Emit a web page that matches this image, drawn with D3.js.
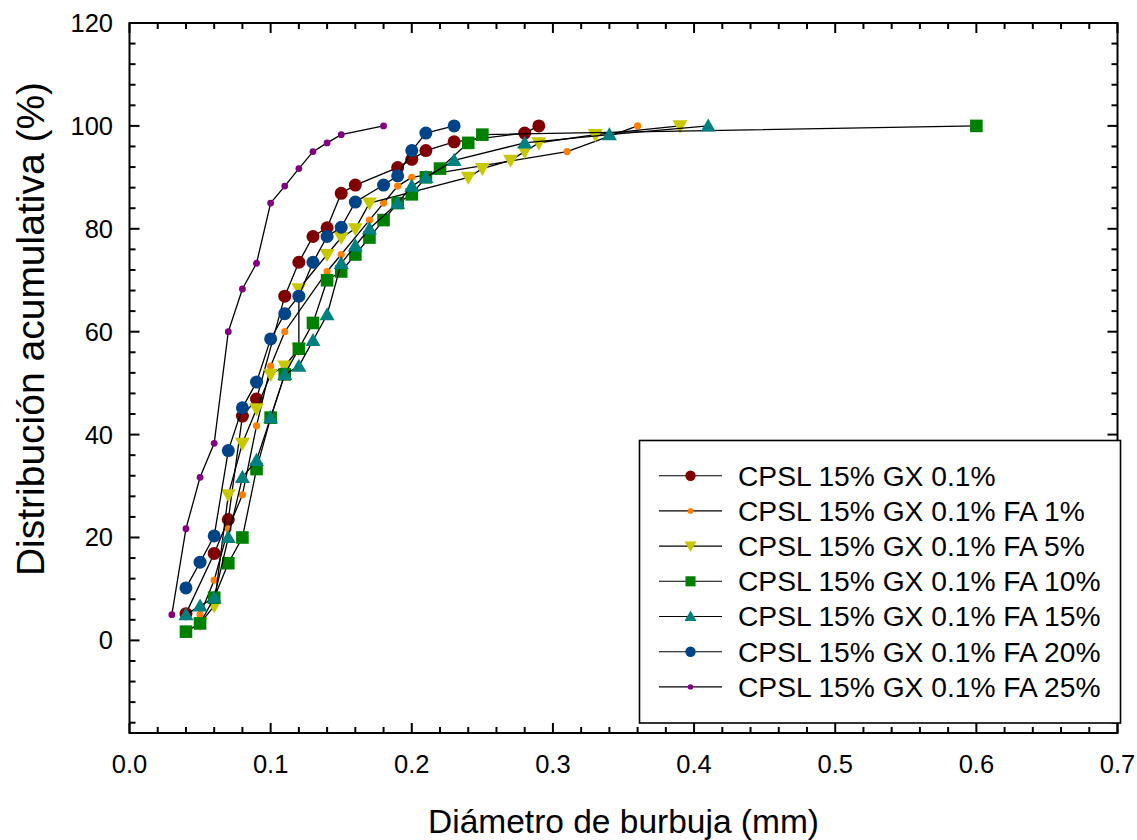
<!DOCTYPE html>
<html>
<head>
<meta charset="utf-8">
<script src="https://cdn.jsdelivr.net/npm/d3@7"></script>
<style>
  html, body { margin: 0; padding: 0; background: #fff; }
  svg { display: block; font-family: "Liberation Sans", Arial, sans-serif; }
</style>
</head>
<body>
<svg id="chart" width="1137" height="840"></svg>
<script>
// ---------- DATA ----------
const seriesNames = [
  "CPSL 15% GX 0.1%",
  "CPSL 15% GX 0.1% FA 1%",
  "CPSL 15% GX 0.1% FA 5%",
  "CPSL 15% GX 0.1% FA 10%",
  "CPSL 15% GX 0.1% FA 15%",
  "CPSL 15% GX 0.1% FA 20%",
  "CPSL 15% GX 0.1% FA 25%"
];

const gx_x = [0.04,0.06,0.07,0.08,0.09,0.11,0.12,0.13,0.14,0.15,0.16,0.19,0.20,0.21,0.23,0.28,0.29];
const gx_y = [5.2,16.9,23.5,43.6,46.9,66.9,73.5,78.5,80.2,86.9,88.5,91.9,93.5,95.2,96.9,98.6,100];

const fa1_x = [0.05,0.06,0.07,0.08,0.09,0.10,0.11,0.14,0.15,0.17,0.18,0.19,0.20,0.31,0.36];
const fa1_y = [5.0,11.7,21.7,28.3,41.7,53.3,60.0,71.7,75.0,81.7,85.0,88.3,90.0,95.0,100];

const fa5_x = [0.05,0.06,0.07,0.08,0.09,0.10,0.11,0.12,0.12,0.14,0.15,0.16,0.17,0.24,0.25,0.27,0.28,0.29,0.33,0.39];
const fa5_y = [3.3,6.7,28.3,38.3,45.0,51.7,53.3,56.7,68.3,75.0,78.3,80.0,85.0,90.0,91.7,93.3,95.0,96.7,98.3,100];

const fa10_x = [0.04,0.05,0.06,0.07,0.08,0.09,0.10,0.11,0.12,0.13,0.14,0.15,0.16,0.17,0.18,0.19,0.20,0.21,0.22,0.24,0.25,0.60];
const fa10_y = [1.7,3.3,8.3,15.0,20.0,33.3,43.3,51.7,56.7,61.7,70.0,71.7,75.0,78.3,81.7,85.0,86.7,90.0,91.7,96.7,98.3,100];

const fa15_x = [0.04,0.05,0.06,0.07,0.08,0.09,0.10,0.11,0.12,0.13,0.14,0.15,0.16,0.17,0.19,0.20,0.21,0.23,0.28,0.34,0.41];
const fa15_y = [5.0,6.7,8.3,20.0,31.7,35.0,43.3,51.7,53.3,58.3,63.3,73.3,76.7,80.0,85.0,88.3,90.0,93.3,96.7,98.3,100];

const fa20_x = [0.04,0.05,0.06,0.07,0.08,0.09,0.10,0.11,0.12,0.13,0.14,0.15,0.16,0.18,0.19,0.20,0.21,0.23];
const fa20_y = [10.2,15.2,20.3,36.9,45.2,50.2,58.6,63.5,66.9,73.5,78.5,80.3,85.2,88.5,90.3,95.2,98.6,100];

const fa25_x = [0.03,0.04,0.05,0.06,0.07,0.08,0.09,0.10,0.11,0.12,0.13,0.14,0.15,0.18];
const fa25_y = [5.0,21.7,31.7,38.3,60.0,68.3,73.3,85.0,88.3,91.7,95.0,96.7,98.3,100];

const xTickLabels = ["0.0","0.1","0.2","0.3","0.4","0.5","0.6","0.7"];
const yTickLabels = ["0","20","40","60","80","100","120"];

// ---------- STYLE ----------
const styles = [
  { color: "#800000", symbol: "circle",   size: 6.5 },
  { color: "#ff8000", symbol: "circle",   size: 3.6 },
  { color: "#c8c800", symbol: "triDown",  size: 7.5 },
  { color: "#008000", symbol: "square",   size: 6.3 },
  { color: "#008080", symbol: "triUp",    size: 7.5 },
  { color: "#004487", symbol: "circle",   size: 6.5 },
  { color: "#800080", symbol: "circle",   size: 3.4 }
];
const xs = [gx_x, fa1_x, fa5_x, fa10_x, fa15_x, fa20_x, fa25_x];
const ys = [gx_y, fa1_y, fa5_y, fa10_y, fa15_y, fa20_y, fa25_y];
const series = seriesNames.map((name, i) => ({
  name, ...styles[i],
  pts: xs[i].map((x, j) => ({ x, y: ys[i][j] }))
}));

// ---------- LAYOUT ----------
const svg = d3.select("#chart");
const L = 129.5, R = 1117.5, T = 23, B = 733;
const x = d3.scaleLinear().domain([0, 0.7]).range([L, R]);
const y = d3.scaleLinear().domain([-18, 120]).range([B, T]);

const FONT = "'Liberation Sans', Arial, sans-serif";

// Ticks
const xMajor = d3.range(0, 0.7001, 0.1);
const xMinor = d3.range(0, 0.7001, 0.02).filter(v => Math.abs(v*10 - Math.round(v*10)) > 1e-6);
const yMajor = d3.range(0, 120.001, 20);
const yMinor = d3.range(-16, 120.001, 4).filter(v => v % 20 !== 0);

const axisG = svg.append("g");
function tickLines(vals, len, orient) {
  vals.forEach(v => {
    if (orient === "bottom") axisG.append("line").attr("x1", x(v)).attr("x2", x(v)).attr("y1", B).attr("y2", B - len);
    if (orient === "top")    axisG.append("line").attr("x1", x(v)).attr("x2", x(v)).attr("y1", T).attr("y2", T + len);
    if (orient === "left")   axisG.append("line").attr("y1", y(v)).attr("y2", y(v)).attr("x1", L).attr("x2", L + len);
    if (orient === "right")  axisG.append("line").attr("y1", y(v)).attr("y2", y(v)).attr("x1", R).attr("x2", R - len);
  });
}
tickLines(xMajor, 10, "bottom"); tickLines(xMinor, 6, "bottom");
tickLines(xMajor, 10, "top");    tickLines(xMinor, 6, "top");
tickLines(yMajor, 10, "left");   tickLines(yMinor, 6, "left");
tickLines(yMajor, 10, "right");  tickLines(yMinor, 6, "right");
axisG.selectAll("line").attr("stroke", "#000").attr("stroke-width", 2);

axisG.append("rect").attr("x", L).attr("y", T).attr("width", R - L).attr("height", B - T)
  .attr("fill", "none").attr("stroke", "#000").attr("stroke-width", 2);

// Tick labels
xMajor.forEach((v, i) => {
  svg.append("text").attr("x", x(v)).attr("y", 773).attr("text-anchor", "middle")
    .attr("font-family", FONT).attr("font-size", 25.5).attr("fill", "#000").text(xTickLabels[i]);
});
yMajor.forEach((v, i) => {
  svg.append("text").attr("x", 113).attr("y", y(v)).attr("dy", "0.35em").attr("text-anchor", "end")
    .attr("font-family", FONT).attr("font-size", 25.5).attr("fill", "#000").text(yTickLabels[i]);
});

// Axis titles
svg.append("text").attr("x", (L + R) / 2).attr("y", 833).attr("text-anchor", "middle")
  .attr("font-family", FONT).attr("font-size", 33.5).attr("fill", "#000").text("Diámetro de burbuja (mm)");
svg.append("text").attr("transform", `translate(44,329) rotate(-90)`).attr("text-anchor", "middle")
  .attr("font-family", FONT).attr("font-size", 39).attr("fill", "#000").text("Distribución acumulativa (%)");

// Symbols
function drawSymbol(g, s, cx, cy, k = 1) {
  const r = s.size * k;
  let el;
  if (s.symbol === "circle") {
    el = g.append("circle").attr("cx", cx).attr("cy", cy).attr("r", r);
  } else if (s.symbol === "square") {
    el = g.append("rect").attr("x", cx - r).attr("y", cy - r).attr("width", 2 * r).attr("height", 2 * r);
  } else if (s.symbol === "triUp") {
    el = g.append("path").attr("d", `M${cx},${cy - r} L${cx + r},${cy + r * 0.75} L${cx - r},${cy + r * 0.75} Z`);
  } else if (s.symbol === "triDown") {
    el = g.append("path").attr("d", `M${cx},${cy + r} L${cx + r},${cy - r * 0.75} L${cx - r},${cy - r * 0.75} Z`);
  }
  el.attr("fill", s.color);
}

const line = d3.line().x(d => x(d.x)).y(d => y(d.y));
const plotG = svg.append("g");
series.forEach(s => {
  const g = plotG.append("g");
  g.append("path").datum(s.pts).attr("d", line).attr("fill", "none").attr("stroke", "#000").attr("stroke-width", 1.3);
  s.pts.forEach(p => drawSymbol(g, s, x(p.x), y(p.y)));
});

// Legend
const lg = svg.append("g");
lg.append("rect").attr("x", 639.5).attr("y", 440.5).attr("width", 481).attr("height", 282.5)
  .attr("fill", "#fff").attr("stroke", "#000").attr("stroke-width", 1.6);
series.forEach((s, i) => {
  const cy = 475.7 + i * 35.2;
  lg.append("line").attr("x1", 659).attr("x2", 722).attr("y1", cy).attr("y2", cy)
    .attr("stroke", "#000").attr("stroke-width", 1.1);
  drawSymbol(lg, s, 690.5, cy, 0.8);
  lg.append("text").attr("x", 738).attr("y", cy).attr("dy", "0.35em")
    .attr("font-family", FONT).attr("font-size", 28.2).attr("fill", "#000").text(s.name);
});
</script>
</body>
</html>
